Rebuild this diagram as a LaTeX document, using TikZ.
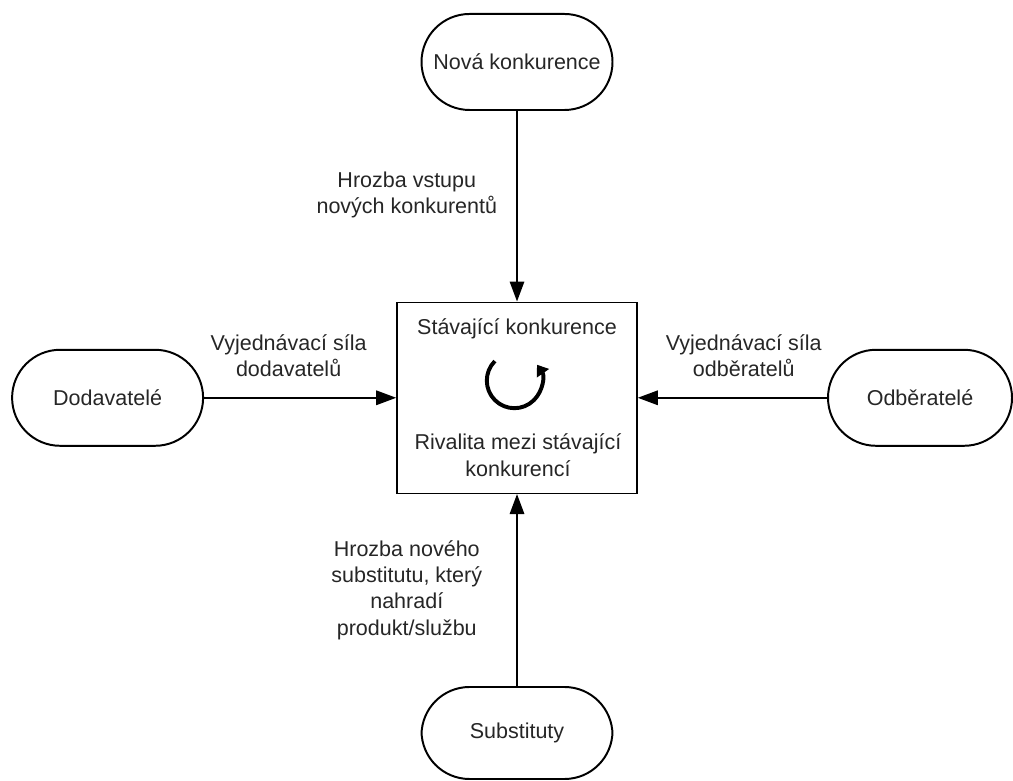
\documentclass[tikz,border=0pt]{standalone}
\usepackage{fontspec}
\setmainfont{Liberation Sans}
\usetikzlibrary{arrows.meta,shapes}

\begin{document}
\begin{tikzpicture}[
  force/.style={draw=black, line width=1.4pt, rounded corners=1.2cm, minimum width=4.775cm, minimum height=2.4cm, align=center, text=black!85},
  rival/.style={draw=black, line width=1.1pt, minimum width=6cm, minimum height=4.775cm},
  txt/.style={align=center, text=black!85, inner sep=0pt},
  pressure/.style={-{Triangle[length=5mm,width=3.6mm]}, line width=1.3pt},
  font=\fontsize{15.3}{18.8}\selectfont
]
\useasboundingbox (0,0) rectangle (25.325,19.525);

% Forces
\node[force] (nova) at (12.925,17.975) {Nová konkurence};
\node[force] (dod) at (2.69,9.58) {Dodavatelé};
\node[force, minimum width=4.6cm] (odb) at (23.0,9.58) {Odběratelé};
\node[force, minimum height=2.3cm] (sub) at (12.925,1.2) {Substituty};

% Existing rivalry
\node[rival] (stav) at (12.925,9.58) {};
\node[txt] (stavtit) at ([yshift=-0.675cm]stav.north) {Stávající konkurence};
\node[txt] (rivtxt) at (12.95,8.15) {Rivalita mezi stávající\\konkurencí};
\coordinate (rot) at (12.86,10.01);
\draw[-{Triangle[length=2.6mm,width=3.6mm]}, line width=2.8pt] ([shift={(135:0.69)}]rot) arc (135:395:0.69);

% Pressures
\draw[pressure] (nova) -- (stav) node[txt, pos=0.44, left=0.475cm] {Hrozba vstupu\\nových konkurentů};
\draw[pressure] (dod) -- (stav) node[txt, pos=0.44, above=0.5cm] {Vyjednávací síla\\dodavatelů};
\draw[pressure] (odb) -- (stav) node[txt, pos=0.44, above=0.5cm] {Vyjednávací síla\\odběratelů};
\draw[pressure] (sub) -- (stav) node[txt, pos=0.5, left=0.85cm] {Hrozba nového\\substitutu, který\\nahradí\\produkt/službu};

\end{tikzpicture}
\end{document}
